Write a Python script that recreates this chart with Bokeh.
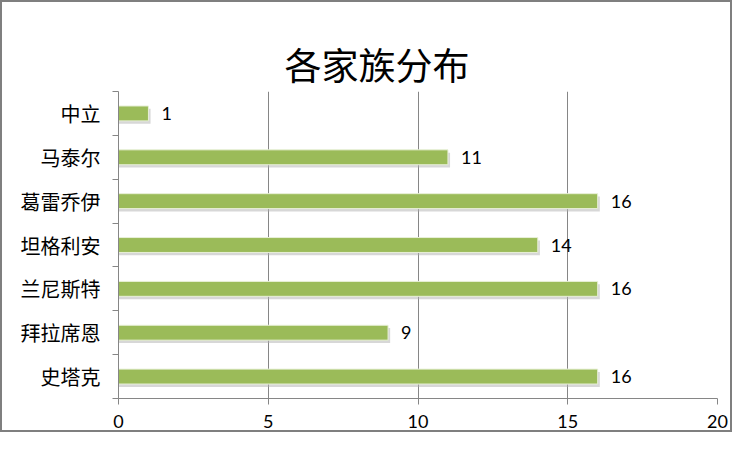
from bokeh.plotting import figure
from bokeh.models import Range1d, FixedTicker, ColumnDataSource, Title
from bokeh.transform import dodge
from bokeh.core.properties import value
from bokeh.embed import file_html
from bokeh.resources import INLINE

title_text = "各家族分布"
families = ["史塔克", "拜拉席恩", "兰尼斯特", "坦格利安", "葛雷乔伊", "马泰尔", "中立"]
counts = [16, 9, 16, 14, 16, 11, 1]
x_ticks = [0, 5, 10, 15, 20]

n = len(families)
pos = [i + 0.5 for i in range(n)]
src = ColumnDataSource(dict(y=pos, v=counts, lbl=[str(c) for c in counts]))

W, H = 732, 432
LEFT, RIGHT, TOP, BOTTOM = 116, 17, 89, 36
p = figure(width=W, height=H, output_backend="svg", toolbar_location=None,
           x_range=Range1d(0, 20), y_range=Range1d(0, n),
           min_border_left=LEFT, min_border_right=RIGHT, min_border_top=TOP,
           min_border_bottom=BOTTOM)
p.styles = {"border": "2px solid #7f7f7f"}
p.outline_line_color = None
p.background_fill_color = "white"
p.border_fill_color = "white"

# default title hidden; real title first, then a spacer that ends up next to the frame
p.title.text = ""
p.title.visible = False
main_title = Title(text=title_text, text_font="Noto Sans CJK SC", text_font_size="37px",
                   text_font_style="normal", text_color="#000000", align="left",
                   offset=374 - LEFT - 92, standoff=2)
p.add_layout(main_title, "above")
spacer = Title(text=" ", text_font_size="1px", standoff=25, text_alpha=0)
p.add_layout(spacer, "above")

# soft shadow
p.hbar(y=dodge("y", -0.065, range=p.y_range), left=0,
       right=dodge("v", 0.07, range=p.x_range), height=0.34,
       source=src, fill_color="#b0b0b0", fill_alpha=0.5, line_color=None)
p.hbar(y="y", left=0, right="v", height=0.34, source=src,
       fill_color="#9bbb59", line_color="#e8f0d8", line_width=1)

p.text(x="v", y="y", text="lbl", source=src, x_offset=13,
       text_baseline="middle", text_align="left",
       text_font=value("Lato"), text_font_size="18px", text_color="#000000")

xa = p.xaxis[0]
xa.ticker = FixedTicker(ticks=x_ticks, minor_ticks=[])
xa.axis_line_color = "#868686"
xa.major_tick_line_color = "#868686"
xa.major_tick_out = 6
xa.major_tick_in = 0
xa.major_label_standoff = 10
xa.major_label_text_font = "Lato"
xa.major_label_text_font_size = "18px"
xa.major_label_text_color = "#000000"

ya = p.yaxis[0]
ya.ticker = FixedTicker(ticks=pos, minor_ticks=list(range(n + 1)))
ya.major_label_overrides = {pv: f for pv, f in zip(pos, families)}
ya.axis_line_color = "#868686"
ya.major_tick_line_color = None
ya.major_tick_out = 0
ya.major_tick_in = 0
ya.minor_tick_line_color = "#868686"
ya.minor_tick_out = 6
ya.minor_tick_in = 0
ya.major_label_standoff = 12
ya.major_label_text_font = "Noto Sans CJK SC"
ya.major_label_text_font_size = "20px"
ya.major_label_text_color = "#000000"

p.xgrid.ticker = FixedTicker(ticks=x_ticks)
p.xgrid.grid_line_color = "#868686"
p.ygrid.visible = False

open("out.html", "w").write(file_html(p, INLINE))
